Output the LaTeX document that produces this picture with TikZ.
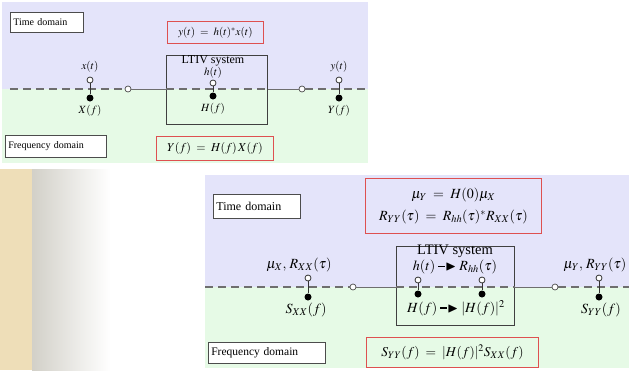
\documentclass[tikz,border=0pt]{standalone}
\usepackage{amssymb}
\usepackage{mathptmx}
\usepackage{fontspec}
\setmainfont{Liberation Serif}
\definecolor{tdblue}{RGB}{228,228,250}
\definecolor{fdgreen}{RGB}{230,250,230}
\definecolor{redbox}{RGB}{222,80,80}
\definecolor{beige}{RGB}{238,222,184}
\definecolor{gradgray}{RGB}{210,208,200}
\definecolor{linegray}{RGB}{110,110,110}
\newcommand\thkarr{\mathrel{\rule[0.55ex]{0.5em}{0.2ex}\!\!\blacktriangleright}}
\tikzset{
  domainbox/.style={draw=black!70, fill=white, line width=0.7pt, inner sep=3pt, align=left, anchor=north west},
  eqbox/.style={draw=redbox, line width=1pt, align=center, anchor=north west},
  ltivbox/.style={draw=black!75, line width=0.8pt, anchor=north west, inner sep=0pt},
  opendot/.style={circle, draw=black!80, fill=white, line width=0.8pt, inner sep=0pt, minimum size=6pt},
  filldot/.style={circle, fill=black, inner sep=0pt, minimum size=7pt},
  linedot/.style={circle, draw=black!70, fill=white, line width=0.7pt, inner sep=0pt, minimum size=6pt},
  stem/.style={draw=black!80, line width=0.8pt},
  dashline/.style={draw=linegray, line width=1.4pt, dash pattern=on 8pt off 5pt},
  solidline/.style={draw=linegray, line width=0.9pt},
  smalltxt/.style={font=\fontsize{11}{12}\selectfont, inner sep=0pt},
  bigtxt/.style={font=\fontsize{14}{15}\selectfont, inner sep=0pt},
}
\begin{document}
\begin{tikzpicture}[x=1pt,y=-1pt]
\useasboundingbox (0,0) rectangle (629,370);
\fill[white] (0,0) rectangle (629,370);
% left texture
\fill[beige] (0,169) rectangle (32,370);
\shade[left color=gradgray, right color=white] (32,169) rectangle (110,370);
% ===== top panel =====
\fill[tdblue] (2,2) rectangle (368,89);
\fill[fdgreen] (2,89) rectangle (368,163);
\node[domainbox, minimum width=73pt, minimum height=20pt, text width=67pt, font=\fontsize{10}{11}\selectfont] (td1) at (10,12) {Time domain};
\node[domainbox, minimum width=101pt, minimum height=22pt, text width=95pt, font=\fontsize{10}{11}\selectfont] (fd1) at (5,135) {Frequency domain};
\node[eqbox, minimum width=96pt, minimum height=22pt, font=\fontsize{11}{12}\selectfont] (eq1) at (167,21) {$y(t)\;=\;h(t)^{*}x(t)$};
\node[eqbox, minimum width=117pt, minimum height=24pt, font=\fontsize{12}{13}\selectfont] (eq2) at (156,136) {$Y(f)\;=\;H(f)\,X(f)$};
\node[ltivbox, minimum width=101pt, minimum height=69pt] (lt1) at (166,55) {};
\node[smalltxt, font=\fontsize{12}{13}\selectfont] (lt1t) at (213,61) {LTIV system};
\coordinate (l1a) at (10,89);
\coordinate (l1b) at (366,89);
\node[linedot] (c1) at (128,89) {};
\node[linedot] (c2) at (302,89) {};
\draw[dashline] (l1a) -- (c1);
\draw[solidline] (c1) -- (lt1.west |- c1);
\draw[dashline] (lt1.west |- c1) -- (lt1.east |- c1);
\draw[solidline] (lt1.east |- c1) -- (c2);
\draw[dashline] (c2) -- (l1b);
% x stem
\node[opendot] (xo) at (90,80) {};
\node[filldot] (xf) at (90,98) {};
\draw[stem] (xo) -- (xf);
\node[smalltxt] (xt) at (90,67) {$x(t)$};
\node[smalltxt] (Xf) at (90,111) {$X(f)$};
% h stem
\node[opendot] (ho) at (213,83) {};
\node[filldot] (hf) at (213,96) {};
\draw[stem] (ho) -- (hf);
\node[smalltxt] (ht) at (213,73) {$h(t)$};
\node[smalltxt] (Hf) at (213,109) {$H(f)$};
% y stem
\node[opendot] (yo) at (339,80) {};
\node[filldot] (yf) at (339,98) {};
\draw[stem] (yo) -- (yf);
\node[smalltxt] (yt) at (339,67) {$y(t)$};
\node[smalltxt] (Yf) at (339,111) {$Y(f)$};
% ===== bottom panel =====
\fill[tdblue] (205,175) rectangle (629,287);
\fill[fdgreen] (205,287) rectangle (629,368);
\node[domainbox, minimum width=87pt, minimum height=24pt, text width=81pt, font=\fontsize{12}{13}\selectfont] (td2) at (213,194) {Time domain};
\node[domainbox, minimum width=117pt, minimum height=21pt, text width=111pt, font=\fontsize{11.5}{12}\selectfont] (fd2) at (208,342) {Frequency domain};
\node[eqbox, minimum width=176pt, minimum height=55pt, font=\fontsize{14}{22}\selectfont, inner sep=1pt] (eq3) at (365,178) {$\mu_Y\;=\;H(0)\mu_X$\\$R_{YY}(\tau)\;=\;R_{hh}(\tau)^{*}R_{XX}(\tau)$};
\node[eqbox, minimum width=172pt, minimum height=30pt, font=\fontsize{13.5}{14}\selectfont, inner sep=1pt] (eq4) at (366,337) {$S_{YY}(f)\;=\;|H(f)|^2S_{XX}(f)$};
\node[ltivbox, minimum width=118pt, minimum height=79pt] (lt2) at (396,246) {};
\node[bigtxt, font=\fontsize{14.5}{15}\selectfont] (lt2t) at (455,251) {LTIV system};
\coordinate (l2a) at (205,287);
\coordinate (l2b) at (629,287);
\node[linedot] (c3) at (353,287) {};
\node[linedot] (c4) at (555,287) {};
\draw[dashline] (l2a) -- (c3);
\draw[solidline] (c3) -- (lt2.west |- c3);
\draw[dashline] (lt2.west |- c3) -- (lt2.east |- c3);
\draw[solidline] (lt2.east |- c3) -- (c4);
\draw[dashline] (c4) -- (l2b);
% X stem
\node[opendot] (sxo) at (308,278) {};
\node[filldot] (sxf) at (308,297) {};
\draw[stem] (sxo) -- (sxf);
\node[bigtxt] (rxx) at (299,265) {$\mu_X,\,R_{XX}(\tau)$};
\node[bigtxt] (sxx) at (306,310) {$S_{XX}(f)$};
% inner stems
\node[opendot] (h1o) at (418,280) {};
\node[filldot] (h1f) at (418,294) {};
\draw[stem] (h1o) -- (h1f);
\node[opendot] (h2o) at (482,280) {};
\node[filldot] (h2f) at (482,294) {};
\draw[stem] (h2o) -- (h2f);
\node[bigtxt] (hrel) at (455,267) {$h(t)\thkarr R_{hh}(\tau)$};
\node[bigtxt] (Hrel) at (456,308) {$H(f)\thkarr|H(f)|^2$};
% Y stem
\node[opendot] (syo) at (599,278) {};
\node[filldot] (syf) at (599,297) {};
\draw[stem] (syo) -- (syf);
\node[bigtxt] (ryy) at (595,265) {$\mu_Y,\,R_{YY}(\tau)$};
\node[bigtxt] (syy) at (601,310) {$S_{YY}(f)$};
\end{tikzpicture}
\end{document}
